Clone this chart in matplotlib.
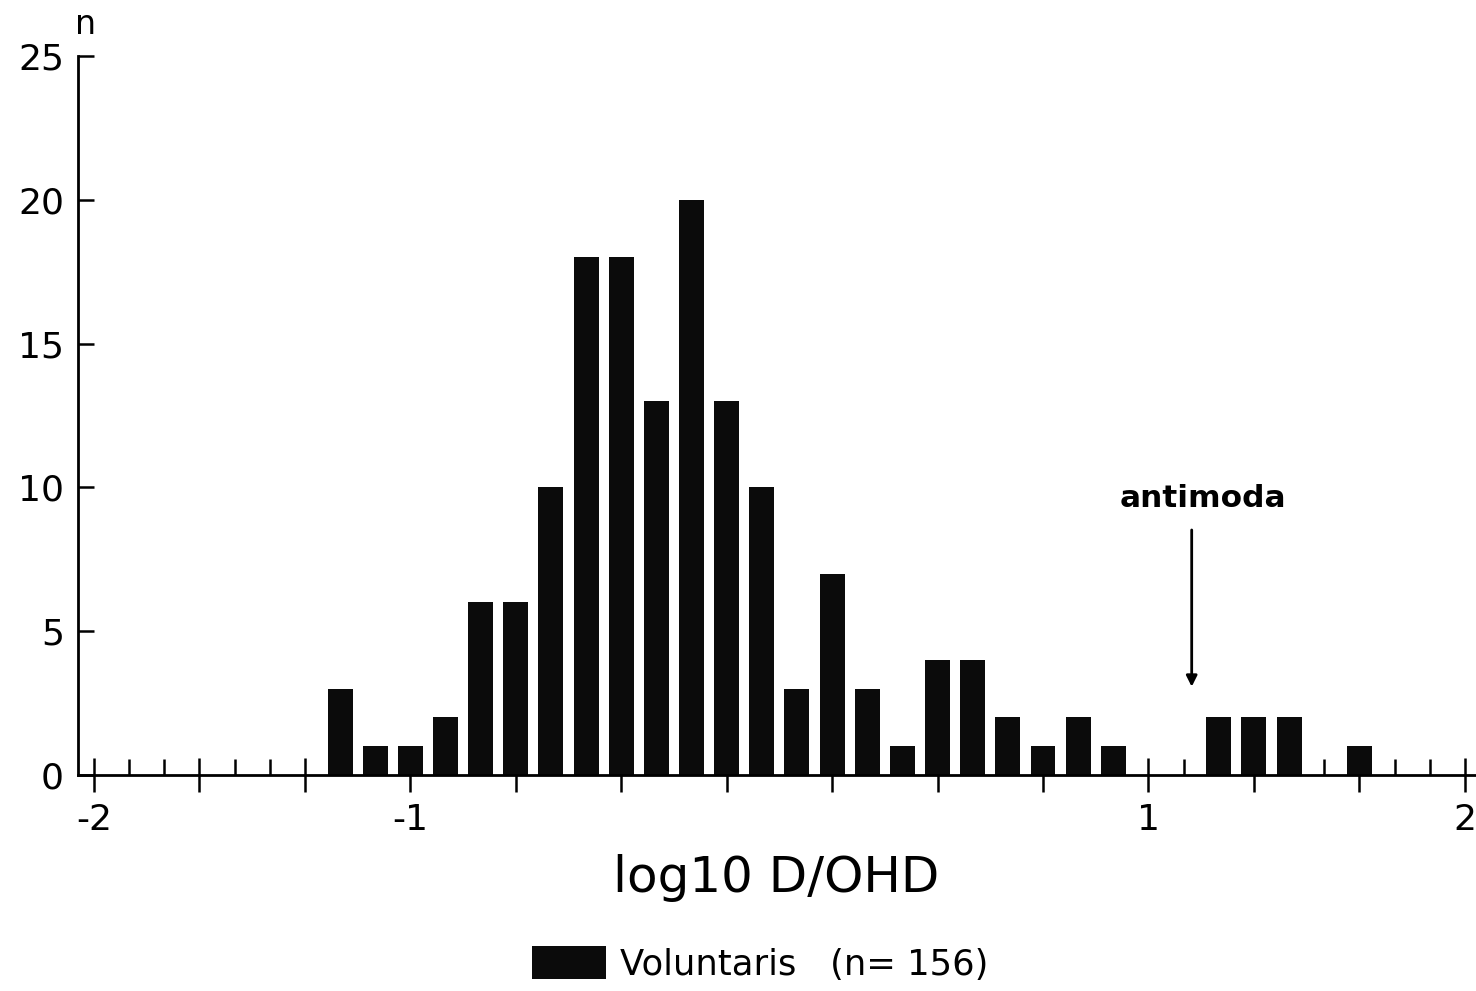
import matplotlib
matplotlib.use("Agg")
import matplotlib.pyplot as plt
from matplotlib.ticker import FixedLocator

# ---- data (x in bin-index units along the printed axis; one small tick per bin) ----
bin_pos = [7, 8, 9, 10, 11, 12, 13, 14, 15, 16, 17, 18, 19, 20, 21, 22, 23,
           24, 25, 26, 27, 28, 29, 30, 31, 32, 33, 34, 35, 36]
counts = [3, 1, 1, 2, 6, 6, 10, 18, 18, 13, 20, 13, 10, 3, 7, 3, 1,
          4, 4, 2, 1, 2, 1, 0, 0, 2, 2, 2, 0, 1]
major_pos = list(range(0, 40, 3))
minor_pos = [i for i in range(0, 40) if i % 3 != 0]
xlabel_pos = [0, 9, 30, 39]
xlabel_txt = ["-2", "-1", "1", "2"]
y_ticks = [0, 5, 10, 15, 20, 25]
series_label = "Voluntaris   (n= 156)"
antimoda_x = 31.23
antimoda_y = (8.52, 3.07)

plt.rcParams['font.family'] = ['DejaVu Sans']

W, H = 1476, 991
fig = plt.figure(figsize=(W / 100, H / 100), dpi=100)
ax = fig.add_axes([78 / W, 216 / H, (1475 - 78) / W, (935 - 216) / H])

ax.set_axisbelow(True)
bars = ax.bar(bin_pos, counts, width=0.71, color='#0b0b0b', linewidth=0,
              label=series_label, zorder=2)

ax.set_xlim(-0.455, 39.29)
ax.set_ylim(0, 25)

for s in ['top', 'right']:
    ax.spines[s].set_visible(False)
for s in ['left', 'bottom']:
    ax.spines[s].set_linewidth(2.0)
    ax.spines[s].set_zorder(3)

# x ticks
major_labels = [xlabel_txt[xlabel_pos.index(p)] if p in xlabel_pos else "" for p in major_pos]
ax.xaxis.set_major_locator(FixedLocator(major_pos))
ax.set_xticklabels(major_labels)
ax.xaxis.set_minor_locator(FixedLocator(minor_pos))
ax.tick_params(axis='x', which='major', direction='inout', length=24.5, width=1.8,
               pad=8, labelsize=26)
ax.tick_params(axis='x', which='minor', direction='in', length=11.5, width=1.8)

# y ticks
ax.set_yticks(y_ticks)
ax.tick_params(axis='y', which='major', direction='in', length=11.5, width=1.8,
               pad=10, labelsize=26)

ax.set_xlabel("log10 D/OHD", fontsize=36, labelpad=12)

fig.text(86 / W, 1 - 24 / H, "n", fontsize=24, ha='center', va='center')

ax.annotate('', xy=(antimoda_x, antimoda_y[1]), xytext=(antimoda_x, antimoda_y[0]),
            arrowprops=dict(arrowstyle='-|>', lw=2, color='black',
                            mutation_scale=16, shrinkA=0, shrinkB=0))
ax.text(31.55, 9.63, "antimoda", ha='center', va='center', fontsize=22.5,
        fontweight='bold')

fig.legend(handles=[bars], labels=[series_label], loc='center',
           bbox_to_anchor=(760 / W, 1 - 964 / H), frameon=False, fontsize=25.5,
           handlelength=2.1, handleheight=1.05, handletextpad=0.37)

fig.savefig("out.png", dpi=100)
